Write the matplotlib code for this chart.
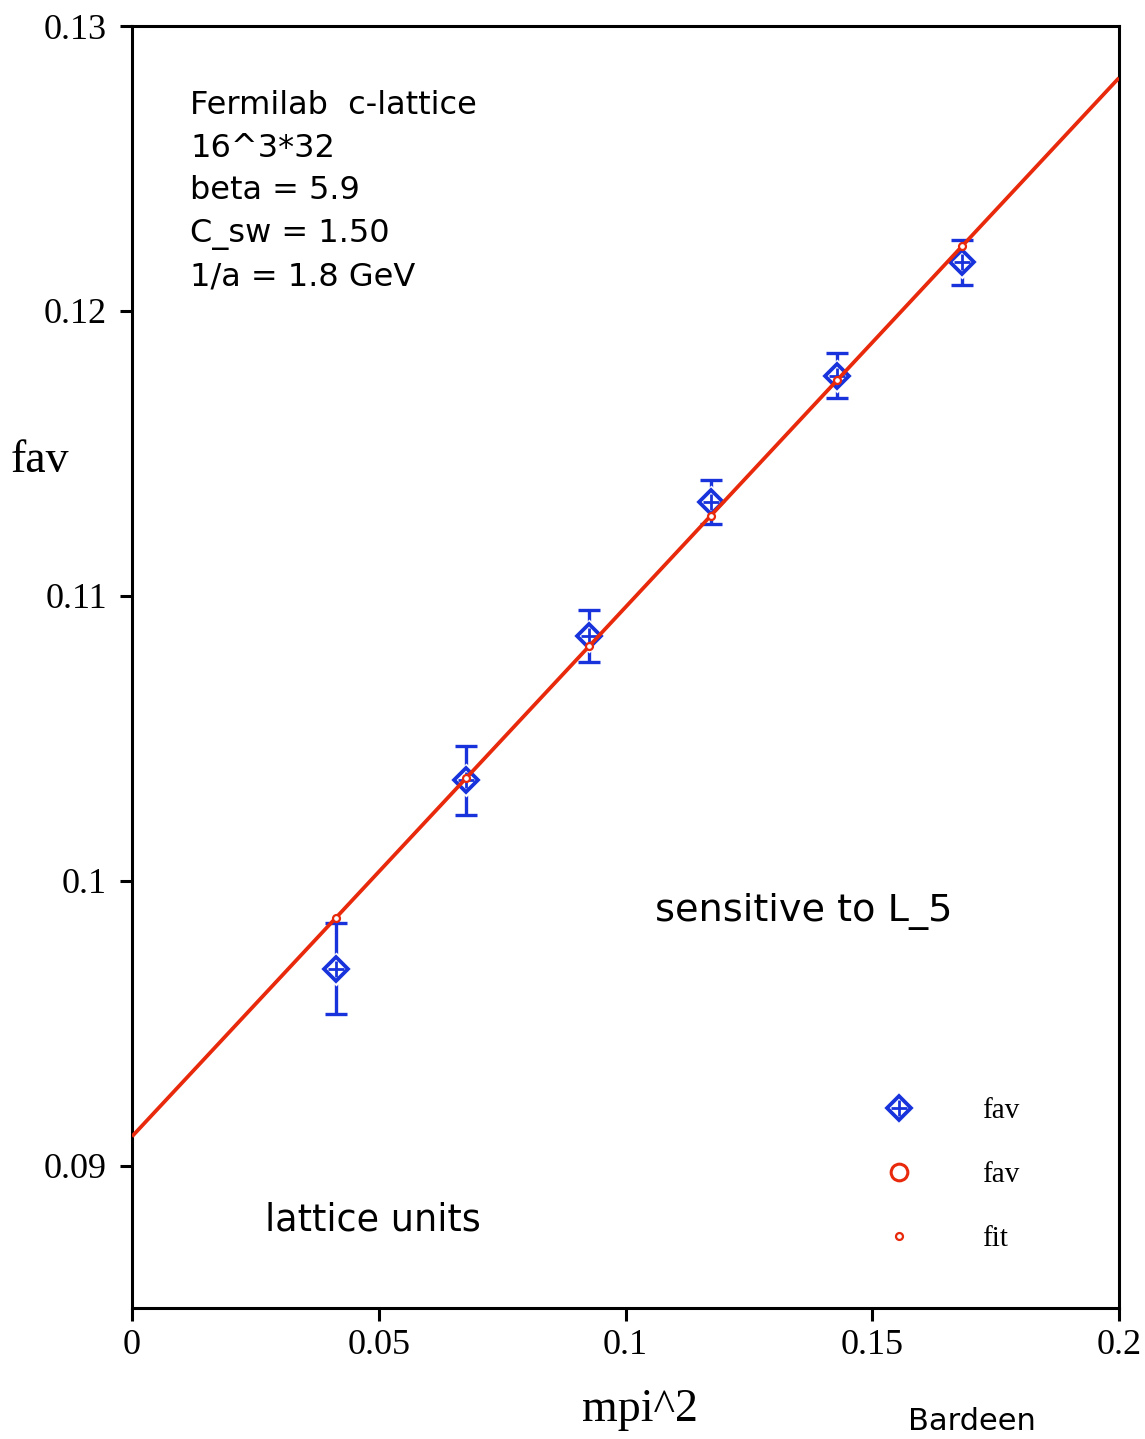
import matplotlib
matplotlib.use("Agg")
import matplotlib.pyplot as plt
from matplotlib.lines import Line2D

# Pion mass squared (lattice units) and measured fav with errors
mpi2 = [0.0413, 0.0677, 0.0926, 0.1173, 0.1429, 0.1682]
fav = [0.09691, 0.10353, 0.10858, 0.11329, 0.11773, 0.12170]
fav_err = [0.00160, 0.00121, 0.00091, 0.00078, 0.00079, 0.00078]

# Linear fit: endpoints of the fit line and fitted values at each mpi^2
fit_line_x = [0.0, 0.2]
fit_line_y = [0.09102, 0.12818]
fit_vals = [0.09869, 0.10360, 0.10823, 0.11281, 0.11757, 0.12227]

xticks = [0, 0.05, 0.1, 0.15, 0.2]
xticklabels = ["0", "0.05", "0.1", "0.15", "0.2"]
yticks = [0.09, 0.10, 0.11, 0.12, 0.13]
yticklabels = ["0.09", "0.1", "0.11", "0.12", "0.13"]

BLUE = "#1833dc"
RED = "#e8290b"
SERIF = ["Liberation Serif", "DejaVu Serif"]
SANS = ["DejaVu Sans"]

W, H = 1145, 1439
fig = plt.figure(figsize=(W / 100, H / 100), dpi=100)
ax = fig.add_axes([132 / W, 1 - 1308 / H, (1119 - 132) / W, (1308 - 26) / H])


def px(x, y):
    """Convert pixel position (from top-left) to figure fraction."""
    return x / W, 1 - y / H


# error bars
ax.errorbar(mpi2, fav, yerr=fav_err, fmt="none", ecolor=BLUE,
            elinewidth=2.4, capsize=8, capthick=2.4, zorder=2)
# white halo around the markers
ax.plot(mpi2, fav, ls="none", marker="D", ms=17, mfc="white", mec="none", zorder=3)
# diamond markers with inner cross
ax.plot(mpi2, fav, ls="none", marker="D", ms=12.5, mfc="white", mec=BLUE, mew=2.7, zorder=4)
ax.plot(mpi2, fav, ls="none", marker="+", ms=12, mec=BLUE, mew=2.0, zorder=5)

# fit line and fitted points
ax.plot(fit_line_x, fit_line_y, color=RED, lw=2.7, zorder=6, solid_capstyle="butt")
ax.plot(mpi2, fit_vals, ls="none", marker="o", ms=5, mfc="white", mec=RED, mew=1.6, zorder=7)

ax.set_xlim(0, 0.2)
ax.set_ylim(0.085, 0.13)
ax.set_xticks(xticks)
ax.set_xticklabels(xticklabels)
ax.set_yticks(yticks)
ax.set_yticklabels(yticklabels)
for lab in ax.get_xticklabels() + ax.get_yticklabels():
    lab.set_fontfamily(SERIF)
    lab.set_fontsize(26)
ax.tick_params(axis="both", direction="out", length=9, width=2.2, colors="black")
ax.tick_params(axis="y", pad=9)
ax.tick_params(axis="x", pad=6)
for s in ax.spines.values():
    s.set_linewidth(2.2)

# axis labels
fig.text(*px(40, 461), "fav", family=SERIF, fontsize=33, ha="center", va="center")
fig.text(*px(640, 1410), "mpi^2", family=SERIF, fontsize=33, ha="center", va="center")

# annotations
fig.text(*px(190, 90), "Fermilab  c-lattice\n16^3*32\nbeta = 5.9\nC_sw = 1.50\n1/a = 1.8 GeV",
         family=SANS, fontsize=23, ha="left", va="top", linespacing=1.48)
fig.text(*px(655, 911), "sensitive to L_5", family=SANS, fontsize=27.5, ha="left", va="center")
fig.text(*px(265, 1220), "lattice units", family=SANS, fontsize=26.3, ha="left", va="center")
fig.text(*px(908, 1421), "Bardeen", family=SANS, fontsize=22, ha="left", va="center")

# legend
h_fav = (Line2D([], [], ls="none", marker="D", ms=12.5, mfc="white", mec=BLUE, mew=2.7),
         Line2D([], [], ls="none", marker="+", ms=12, mec=BLUE, mew=2.0))
h_fav2 = Line2D([], [], ls="none", marker="o", ms=12, mfc="white", mec=RED, mew=2.2)
h_fit = Line2D([], [], ls="none", marker="o", ms=5, mfc="white", mec=RED, mew=1.6)
leg = ax.legend([h_fav, h_fav2, h_fit], ["fav", "fav", "fit"],
                loc="upper left", bbox_to_anchor=px(884, 1098), bbox_transform=fig.transFigure,
                frameon=False, handlelength=1.0, handletextpad=2.35, labelspacing=1.28,
                borderpad=0, borderaxespad=0, prop={"family": SERIF, "size": 21})

fig.savefig("out.png", dpi=100)
